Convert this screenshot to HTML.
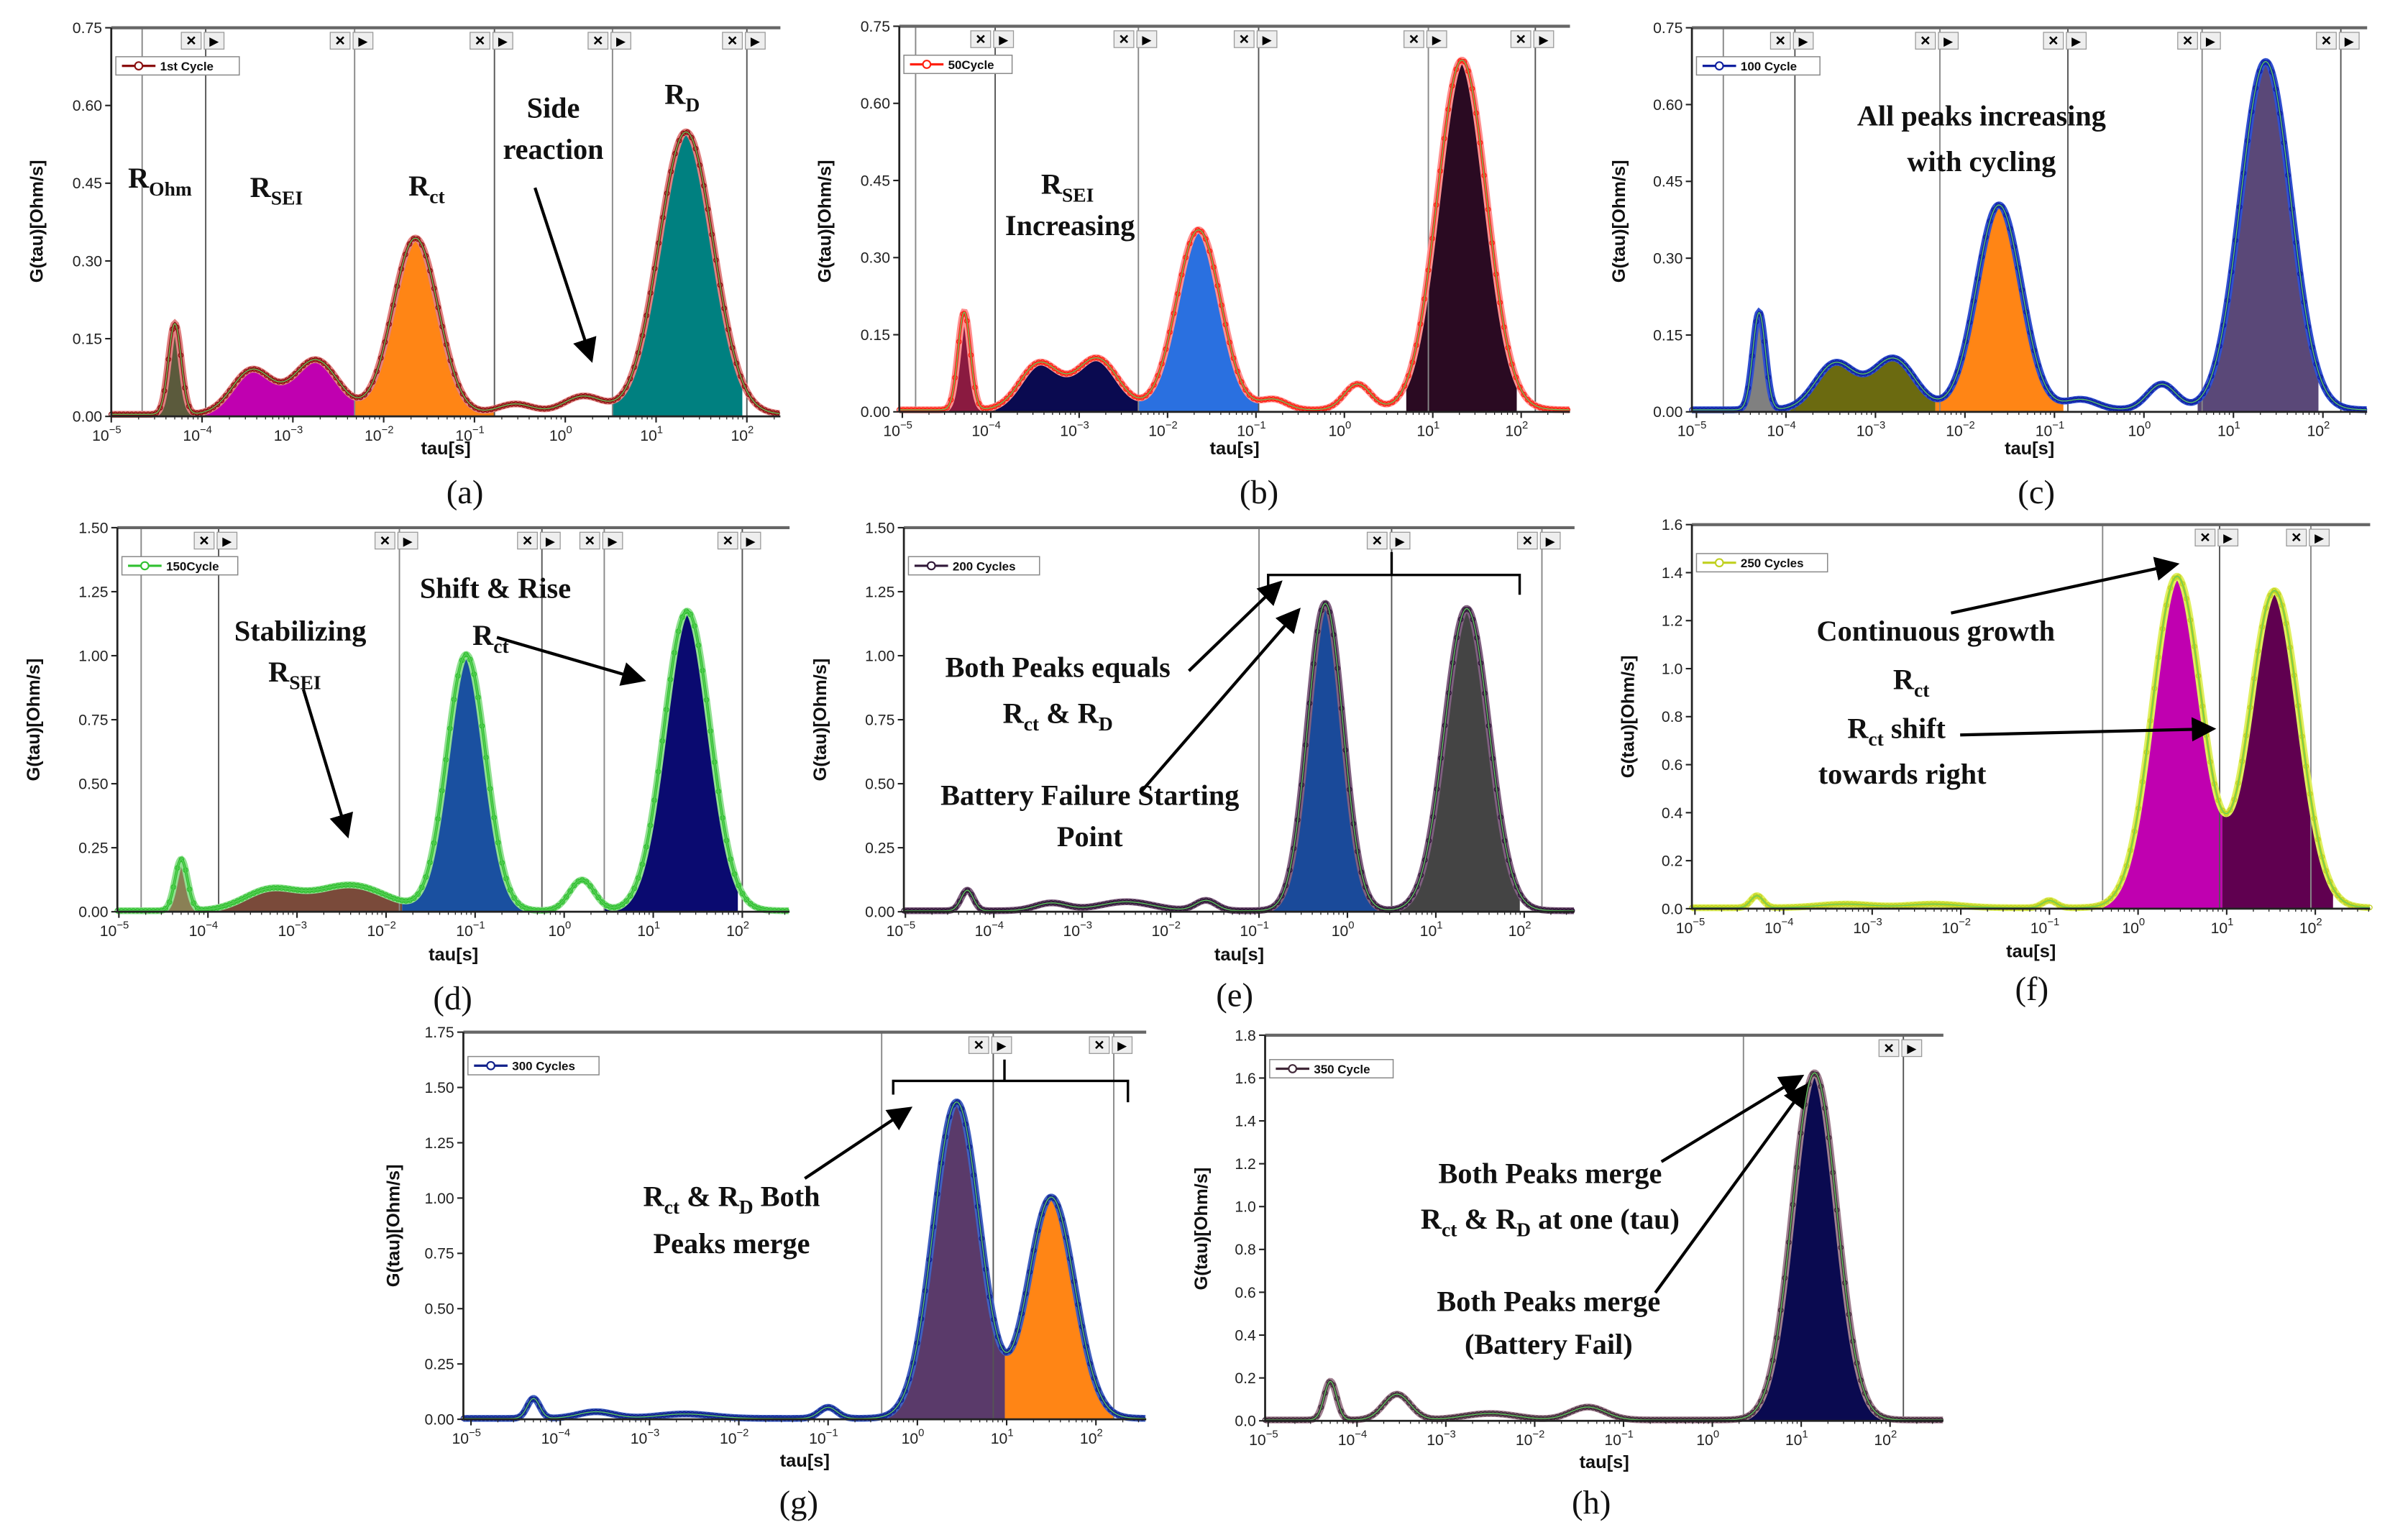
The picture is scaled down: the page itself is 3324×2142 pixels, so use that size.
<!DOCTYPE html>
<html><head><meta charset="utf-8"><style>
html,body{margin:0;padding:0;background:#fff;}
svg{display:block;}
.tk{font-family:"Liberation Sans",sans-serif;font-size:10px;fill:#222;}
.ax{font-family:"Liberation Sans",sans-serif;font-size:12px;font-weight:bold;fill:#111;}
.ann{font-family:"Liberation Serif",serif;font-size:19px;font-weight:bold;fill:#111;}
.cap{font-family:"Liberation Serif",serif;font-size:22px;fill:#111;}
.lg{font-family:"Liberation Sans",sans-serif;font-size:8px;font-weight:bold;fill:#111;}
</style></head><body>
<svg id="fig" width="3324" height="2142" viewBox="0 0 1568 1010" xmlns="http://www.w3.org/2000/svg">
<defs><marker id="ah" markerWidth="8" markerHeight="8" refX="7" refY="4" orient="auto"><path d="M0,0 L8,4 L0,8 z" fill="#000"/></marker></defs>
<g id="panels"></g>
<g id="anns">
 <text class="ann" x="84" y="123">R<tspan font-size="13" dy="5">Ohm</tspan></text>
 <text class="ann" x="164" y="129">R<tspan font-size="13" dy="5">SEI</tspan></text>
 <text class="ann" x="268" y="128">R<tspan font-size="13" dy="5">ct</tspan></text>
 <text class="ann" x="363" y="77" text-anchor="middle">Side</text>
 <text class="ann" x="363" y="104" text-anchor="middle">reaction</text>
 <text class="ann" x="436" y="68">R<tspan font-size="13" dy="5">D</tspan></text>
 <line x1="351" y1="123" x2="388" y2="236" stroke="#000" stroke-width="2" marker-end="url(#ah)"/>
 <text class="ann" x="683" y="127">R<tspan font-size="13" dy="5">SEI</tspan></text>
 <text class="ann" x="702" y="154" text-anchor="middle">Increasing</text>
 <text class="ann" x="1300" y="82" text-anchor="middle">All peaks increasing</text>
 <text class="ann" x="1300" y="112" text-anchor="middle">with cycling</text>
 <text class="ann" x="197" y="420" text-anchor="middle">Stabilizing</text>
 <text class="ann" x="176" y="447">R<tspan font-size="13" dy="5">SEI</tspan></text>
 <line x1="199" y1="452" x2="228" y2="548" stroke="#000" stroke-width="2" marker-end="url(#ah)"/>
 <text class="ann" x="325" y="392" text-anchor="middle">Shift &amp; Rise</text>
 <text class="ann" x="310" y="423">R<tspan font-size="13" dy="5">ct</tspan></text>
 <line x1="326" y1="418" x2="422" y2="446" stroke="#000" stroke-width="2" marker-end="url(#ah)"/>
 <text class="ann" x="694" y="444" text-anchor="middle">Both Peaks equals</text>
 <text class="ann" x="694" y="474" text-anchor="middle">R<tspan font-size="13" dy="5">ct</tspan><tspan dy="-5"> &amp; R</tspan><tspan font-size="13" dy="5">D</tspan></text>
 <text class="ann" x="715" y="528" text-anchor="middle">Battery Failure Starting</text>
 <text class="ann" x="715" y="555" text-anchor="middle">Point</text>
 <line x1="780" y1="440" x2="840" y2="382" stroke="#000" stroke-width="2" marker-end="url(#ah)"/>
 <line x1="748" y1="520" x2="852" y2="400" stroke="#000" stroke-width="2" marker-end="url(#ah)"/>
 <text class="ann" x="1270" y="420" text-anchor="middle">Continuous growth</text>
 <text class="ann" x="1242" y="452">R<tspan font-size="13" dy="5">ct</tspan></text>
 <text class="ann" x="1212" y="484">R<tspan font-size="13" dy="5">ct</tspan><tspan dy="-5"> shift</tspan></text>
 <text class="ann" x="1248" y="514" text-anchor="middle">towards right</text>
 <line x1="1280" y1="402" x2="1428" y2="370" stroke="#000" stroke-width="2" marker-end="url(#ah)"/>
 <line x1="1286" y1="482" x2="1452" y2="478" stroke="#000" stroke-width="2" marker-end="url(#ah)"/>
 <text class="ann" x="480" y="791" text-anchor="middle">R<tspan font-size="13" dy="5">ct</tspan><tspan dy="-5"> &amp; R</tspan><tspan font-size="13" dy="5">D</tspan><tspan dy="-5"> Both</tspan></text>
 <text class="ann" x="480" y="822" text-anchor="middle">Peaks merge</text>
 <line x1="528" y1="773" x2="597" y2="727" stroke="#000" stroke-width="2" marker-end="url(#ah)"/>
 <text class="ann" x="1017" y="776" text-anchor="middle">Both Peaks merge</text>
 <text class="ann" x="1017" y="806" text-anchor="middle">R<tspan font-size="13" dy="5">ct</tspan><tspan dy="-5"> &amp; R</tspan><tspan font-size="13" dy="5">D</tspan><tspan dy="-5"> at one (tau)</tspan></text>
 <text class="ann" x="1016" y="860" text-anchor="middle">Both Peaks merge</text>
 <text class="ann" x="1016" y="888" text-anchor="middle">(Battery Fail)</text>
 <line x1="1090" y1="762" x2="1182" y2="706" stroke="#000" stroke-width="2" marker-end="url(#ah)"/>
 <line x1="1086" y1="848" x2="1185" y2="712" stroke="#000" stroke-width="2" marker-end="url(#ah)"/>
 <path d="M832,385 V377 H997 V390 M913,377 V362" fill="none" stroke="#000" stroke-width="1.6"/>
 <path d="M586,718 V709 H740 V723 M659,709 V695" fill="none" stroke="#000" stroke-width="1.6"/>
</g>
</svg>
<script>
// ---- data: peaks [log10(tau) center, height, sigma] ----
const peaksA = [[-4.3,0.175,0.07],[-3.45,0.085,0.22],[-2.75,0.105,0.25],[-1.65,0.34,0.25],[-0.55,0.02,0.2],[0.2,0.035,0.22],[1.33,0.545,0.3]];
const peaksB = [[-4.3,0.19,0.07],[-3.45,0.09,0.22],[-2.8,0.1,0.24],[-1.65,0.35,0.25],[-0.8,0.02,0.15],[0.15,0.05,0.15],[1.33,0.68,0.28]];
const peaksC = [[-4.3,0.19,0.07],[-3.45,0.09,0.22],[-2.8,0.1,0.24],[-1.62,0.4,0.25],[-0.7,0.02,0.18],[0.2,0.05,0.16],[1.36,0.68,0.28]];
const peaksD = [[-4.3,0.2,0.07],[-3.3,0.08,0.3],[-2.4,0.1,0.4],[-1.1,1.0,0.22],[0.2,0.12,0.14],[1.38,1.17,0.26]];
const peaksE = [[-4.3,0.08,0.07],[-3.35,0.03,0.18],[-2.5,0.035,0.3],[-1.6,0.04,0.12],[-0.25,1.2,0.2],[1.35,1.18,0.25]];
const peaksF = [[-4.3,0.05,0.07],[-3.3,0.015,0.3],[-2.3,0.015,0.3],[-1.0,0.03,0.08],[0.44,1.38,0.28],[1.54,1.32,0.28]];
const peaksG = [[-4.3,0.09,0.07],[-3.6,0.03,0.2],[-2.6,0.02,0.3],[-1.0,0.05,0.1],[0.44,1.43,0.26],[1.5,1.0,0.26]];
const peaksH = [[-4.3,0.18,0.07],[-3.55,0.12,0.15],[-2.5,0.03,0.3],[-1.4,0.06,0.2],[1.15,1.62,0.25]];
const fillsA = [[-4.66,-3.96],[-3.96,-2.32],[-2.32,-0.78],[0.52,1.95]];
const fillsB = [[-4.6,-3.95],[-3.95,-2.33],[-2.33,-0.97],[0.7,1.95]];
const fillsC = [[-4.7,-3.95],[-3.95,-2.33],[-2.33,-0.9],[0.6,1.95]];
const fillsD = [[-4.75,-3.9],[-3.9,-1.82],[-1.82,-0.3],[0.45,1.95]];
const fillsE = [[-0.85,0.45],[0.45,1.95]];
const fillsF = [[-0.4,0.95],[0.95,2.2]];
const fillsG = [[-0.4,0.98],[0.98,2.2]];
const fillsH = [[0.3,1.95]];
const vlinesA = [-4.66,-3.96,-2.32,-0.78,0.52,2.0];
const vlinesB = [-4.85,-3.95,-2.33,-0.97,0.95,2.16];
const vlinesC = [-4.7,-3.9,-2.28,-0.85,0.65,2.2];
const vlinesD = [-4.75,-3.88,-1.85,-0.25,0.45,2.0];
const vlinesE = [-1.0,0.5,2.2];
const vlinesF = [-0.4,0.92,1.95];
const vlinesG = [-0.4,0.85,2.2];
const vlinesH = [0.35,2.15];
const yTicksA = [0,0.15,0.30,0.45,0.60,0.75];
const yTicksD = [0,0.25,0.5,0.75,1.0,1.25,1.5];
const yTicksF = [0,0.2,0.4,0.6,0.8,1.0,1.2,1.4,1.6];
const yTicksG = [0,0.25,0.5,0.75,1.0,1.25,1.5,1.75];
const yTicksH = [0,0.2,0.4,0.6,0.8,1.0,1.2,1.4,1.6,1.8];
const xTickExps = [-5,-4,-3,-2,-1,0,1,2];

const panels = [
 {id:'a',L:73,R:512,T:18,B:273,x0:73,x2:490,ymax:0.75,yt:yTicksA,dec:2,peaks:peaksA,fills:fillsA,fc:['#5b5a3c','#c000b0','#ff8515','#008080'],vl:vlinesA,line:'#8b1010',mk:'#e08080',leg:'1st Cycle',cap:[305,330],xl:298,ylx:28,yly:145},
 {id:'b',L:590,R:1030,T:17,B:270,x0:592,x2:998,ymax:0.75,yt:yTicksA,dec:2,peaks:peaksB,fills:fillsB,fc:['#8a1a40','#0a0a50','#2a70e0','#2a0a22'],vl:vlinesB,line:'#ff2010',mk:'#ff9090',leg:'50Cycle',cap:[826,330],xl:298,ylx:545,yly:145},
 {id:'c',L:1110,R:1553,T:18,B:270,x0:1113,x2:1524,ymax:0.75,yt:yTicksA,dec:2,peaks:peaksC,fills:fillsC,fc:['#808080','#6b6a10','#ff8515','#5a4878'],vl:vlinesC,line:'#1020a0',mk:'#3050d0',leg:'100 Cycle',cap:[1336,330],xl:298,ylx:1066,yly:145},
 {id:'d',L:77,R:518,T:346,B:598,x0:78,x2:487,ymax:1.5,yt:yTicksD,dec:2,peaks:peaksD,fills:fillsD,fc:['#8a8055','#7a4a3a','#1a50a0','#0a0a70'],vl:vlinesD,line:'#30c030',mk:'#90e090',leg:'150Cycle',cap:[297,662],xl:630,ylx:26,yly:472},
 {id:'e',L:593,R:1033,T:346,B:598,x0:594,x2:1000,ymax:1.5,yt:yTicksD,dec:2,peaks:peaksE,fills:fillsE,fc:['#1a4a9a','#444444'],vl:vlinesE,line:'#301838',mk:'#806080',leg:'200 Cycles',cap:[810,660],xl:630,ylx:542,yly:472},
 {id:'f',L:1110,R:1555,T:344,B:596,x0:1112,x2:1519,ymax:1.6,yt:yTicksF,dec:1,peaks:peaksF,fills:fillsF,fc:['#c000b0','#600050'],vl:vlinesF,line:'#c0d020',mk:'#e0f060',leg:'250 Cycles',cap:[1333,656],xl:628,ylx:1072,yly:470},
 {id:'g',L:304,R:752,T:677,B:931,x0:309,x2:719,ymax:1.75,yt:yTicksG,dec:2,peaks:peaksG,fills:fillsG,fc:['#5a3a6a','#ff8515'],vl:vlinesG,line:'#10208a',mk:'#4060c0',leg:'300 Cycles',cap:[524,993],xl:962,ylx:262,yly:804},
 {id:'h',L:830,R:1275,T:679,B:932,x0:832,x2:1240,ymax:1.8,yt:yTicksH,dec:1,peaks:peaksH,fills:fillsH,fc:['#0a0a50'],vl:vlinesH,line:'#402838',mk:'#a08090',leg:'350 Cycle',cap:[1044,993],xl:963,ylx:792,yly:806}
];
const NS='http://www.w3.org/2000/svg';
function mk(tag,attrs,parent){const e=document.createElementNS(NS,tag);for(const k in attrs)e.setAttribute(k,attrs[k]);if(parent)parent.appendChild(e);return e;}
function gval(peaks,l){let s=0.004;for(const p of peaks){s+=p[1]*Math.exp(-0.5*Math.pow((l-p[0])/p[2],2));}return s;}
const root=document.getElementById('panels');
for(const P of panels){
 const dec=(P.x2-P.x0)/7;
 const X=l=>P.x0+(l+5)*dec;
 const Y=v=>P.B-(v/P.ymax)*(P.B-P.T);
 const lmin=(P.L-P.x0)/dec-5, lmax=(P.R-P.x0)/dec-5;
 const g=mk('g',{},root);
 
 
 mk('rect',{x:P.L,y:P.T,width:P.R-P.L,height:P.B-P.T,fill:'#fff',stroke:'none'},g);
 P.fills.forEach((f,i)=>{
  let d='M'+X(f[0])+','+Y(0);
  for(let l=f[0];l<=f[1]+1e-9;l+=0.01)d+=' L'+X(l).toFixed(2)+','+Y(gval(P.peaks,l)).toFixed(2);
  d+=' L'+X(f[1])+','+Y(0)+'Z';
  const a=mk('path',{d:d,fill:P.fc[i]},g);
  
  
 });
 P.vl.forEach((v,i)=>{
  mk('line',{x1:X(v),x2:X(v),y1:P.T,y2:P.B,stroke:i%2?'#555':'#888','stroke-width':0.9},g);
 });
 for(let i=1;i<P.vl.length;i+=1){
  const bx=X(P.vl[i]);
  const b=mk('g',{},g);
  
  
  mk('rect',{x:bx-16,y:P.T+3,width:13,height:11,fill:'#eee',stroke:'#999','stroke-width':0.6},b);
  mk('text',{x:bx-9.5,y:P.T+12,'text-anchor':'middle','font-size':11,'font-weight':'bold','font-family':'Liberation Sans'},b).textContent='×';
  mk('rect',{x:bx-1,y:P.T+3,width:13,height:11,fill:'#eee',stroke:'#999','stroke-width':0.6},b);
  mk('text',{x:bx+5.5,y:P.T+11.5,'text-anchor':'middle','font-size':8,'font-family':'DejaVu Sans'},b).textContent='▶';
 }
 let d='';
 for(let l=lmin;l<=lmax;l+=0.01){d+=(d?' L':'M')+X(l).toFixed(2)+','+Y(gval(P.peaks,l)).toFixed(2);}
 mk('path',{d:d,fill:'none',stroke:P.mk,'stroke-width':4.5},g);
 const c2=mk('path',{d:d,fill:'none',stroke:P.line,'stroke-width':1.8},g);
 
 
 for(let l=lmin;l<=lmax;l+=0.045){mk('circle',{cx:X(l),cy:Y(gval(P.peaks,l)),r:1.5,fill:'none',stroke:P.line,'stroke-width':0.6},g);}
 mk('path',{d:d,fill:'none',stroke:'#60d060','stroke-width':0.6},g);
 mk('line',{x1:P.L,x2:P.R,y1:P.T,y2:P.T,stroke:'#666','stroke-width':2},g);
 mk('line',{x1:P.L,x2:P.L,y1:P.T,y2:P.B,stroke:'#222','stroke-width':1.3},g);
 mk('line',{x1:P.L,x2:P.R,y1:P.B,y2:P.B,stroke:'#222','stroke-width':1.3},g);
 P.yt.forEach(v=>{
  mk('line',{x1:P.L-4,x2:P.L,y1:Y(v),y2:Y(v),stroke:'#222'},g);
  const t=mk('text',{x:P.L-6,y:Y(v)+3.5,'text-anchor':'end',class:'tk'},g);
  t.textContent=v.toFixed(P.dec);
 });
 xTickExps.forEach(e=>{
  mk('line',{x1:X(e),x2:X(e),y1:P.B,y2:P.B+4,stroke:'#222'},g);
  for(let m=2;m<10;m++){const xm=X(e+Math.log10(m));if(xm<P.R)mk('line',{x1:xm,x2:xm,y1:P.B,y2:P.B+2,stroke:'#222','stroke-width':0.6},g);}
  const t=mk('text',{x:X(e)-3,y:P.B+16,'text-anchor':'middle',class:'tk'},g);
  t.textContent='10';
  const s=mk('tspan',{'font-size':7,dy:-5},t);s.textContent=String(e).replace('-','\u2212');
 });
 const xl=mk('text',{x:(P.L+P.R)/2,y:P.xl,'text-anchor':'middle',class:'ax'},g);xl.textContent='tau[s]';
 
 
 const yl=mk('text',{x:0,y:0,'text-anchor':'middle',class:'ax',transform:'translate('+P.ylx+','+P.yly+') rotate(-90)'},g);yl.textContent='G(tau)[Ohm/s]';
 
 
 const lg=mk('g',{},g);
 
 
 const lx=P.L+3,ly=P.T+(P.id==='g'||P.id==='h'?16:19);
 mk('rect',{x:lx,y:ly,width:P.leg.length*5+36,height:12,fill:'#fff',stroke:'#888','stroke-width':0.7},lg);
 mk('line',{x1:lx+4,x2:lx+26,y1:ly+6,y2:ly+6,stroke:P.line,'stroke-width':1.5},lg);
 mk('circle',{cx:lx+15,cy:ly+6,r:2.5,fill:'#fff',stroke:P.line},lg);
 mk('text',{x:lx+29,y:ly+9,class:'lg'},lg).textContent=P.leg;
 const cp=mk('text',{x:P.cap[0],y:P.cap[1],'text-anchor':'middle',class:'cap'},g);cp.textContent='('+P.id+')';
 
 
}
</script>
</body></html>
